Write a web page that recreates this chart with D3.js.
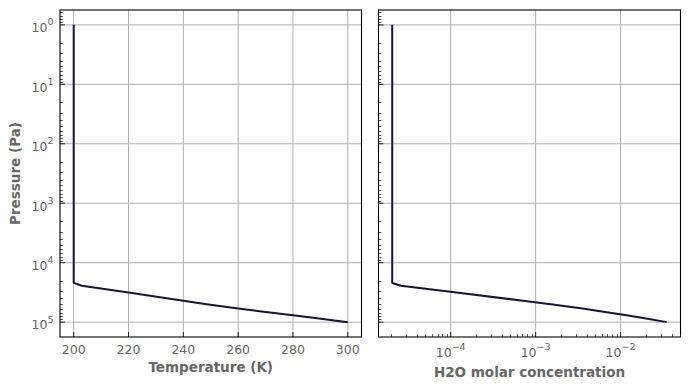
<!DOCTYPE html>
<html>
<head>
<meta charset="utf-8">
<script src="https://cdn.jsdelivr.net/npm/d3@7"></script>
<style>
	html, body { margin: 0; padding: 0; background: #fff; }
	.c-svg { width: 690px; height: 390px; }
	text { font-family: "DejaVu Sans", sans-serif; }
</style>
</head>
<body>
<div class="c-svg"></div>
<script>

//DATA
//-------------------------------------------------------------------------

//pressure levels (Pa) shared by both profiles
const pressure = [1, 2.19e4, 2.44e4, 3.16e4, 4.37e4, 5.0e4, 5.89e4, 6.61e4, 7.69e4, 8.71e4, 1e5];
//temperature profile (K)
const temperature = [200, 200, 203, 220, 240, 248.5, 260, 268.5, 280, 289.5, 300];
//h2o molar concentration profile
const h2o = [2.05e-5, 2.05e-5, 2.6e-5, 1.17e-4, 7.1e-4, 1.51e-3, 3.57e-3, 6.0e-3, 1.18e-2, 2.0e-2, 3.5e-2];

//tick labels
const tempTicks = [200, 220, 240, 260, 280, 300];
const h2oTickExp = [-4, -3, -2];
const pressTickExp = [0, 1, 2, 3, 4, 5];


//INITIALISATION
//-------------------------------------------------------------------------

const opts = {
	container: ".c-svg",
	width: 690,
	height: 390,
	top: 10,
	bottom: 337,
	left: { x0: 60, x1: 361.5 },
	right: { x0: 378.5, x1: 680.5 },
	tickColor: "#666666",
	gridColor: "#b0b0b0",
	lineColor: "#1b1238",
	tickSize: 12.5,
	supSize: 9.5,
	labelSize: 13.5
};

const svg = d3.select(opts.container)
	.append("svg")
	.attr("width", opts.width)
	.attr("height", opts.height);

//log pressure axis, inverted, 5% margin like matplotlib
const pad = 0.25;
const y = d3.scaleLog()
	.domain([Math.pow(10, -pad), Math.pow(10, 5 + pad)])
	.range([opts.top, opts.bottom]);

//temperature axis
const xT = d3.scaleLinear()
	.domain([195, 305])
	.range([opts.left.x0, opts.left.x1]);

//h2o axis
const hExt = d3.extent(h2o).map(Math.log10);
const hPad = (hExt[1] - hExt[0]) * 0.05;
const xH = d3.scaleLog()
	.domain([Math.pow(10, hExt[0] - hPad), Math.pow(10, hExt[1] + hPad)])
	.range([opts.right.x0, opts.right.x1]);

//minor ticks for log scale
function minorTicks(scale){
	const d = scale.domain();
	const lo = Math.min(d[0], d[1]), hi = Math.max(d[0], d[1]);
	const out = [];
	for (let e = Math.floor(Math.log10(lo)); e <= Math.ceil(Math.log10(hi)); e++){
		for (let m = 2; m <= 9; m++){
			const v = m * Math.pow(10, e);
			if (v > lo && v < hi) out.push(v);
		}
	}
	return out;
}

//superscript label "10^e"
function powLabel(sel, e){
	sel.append("tspan").text("10");
	sel.append("tspan")
		.attr("dy", -6.8)
		.attr("font-size", opts.supSize)
		.text(e < 0 ? "\u2212" + Math.abs(e) : e);
}


//PANELS
//-------------------------------------------------------------------------

function panel(box, x, xMajor, name){
	const g = svg.append("g").attr("class", "panel-" + name);

	//grid
	g.selectAll(".gx")
		.data(xMajor)
		.join("line")
		.attr("x1", d => x(d)).attr("x2", d => x(d))
		.attr("y1", opts.top).attr("y2", opts.bottom)
		.style("stroke", opts.gridColor)
		.style("stroke-width", 1);

	g.selectAll(".gy")
		.data(pressTickExp)
		.join("line")
		.attr("x1", box.x0).attr("x2", box.x1)
		.attr("y1", d => y(Math.pow(10, d))).attr("y2", d => y(Math.pow(10, d)))
		.style("stroke", opts.gridColor)
		.style("stroke-width", 1);

	//y ticks (inward)
	g.selectAll(".ty")
		.data(pressTickExp)
		.join("line")
		.attr("x1", box.x0).attr("x2", box.x0 + 4.9)
		.attr("y1", d => y(Math.pow(10, d))).attr("y2", d => y(Math.pow(10, d)))
		.style("stroke", "#222")
		.style("stroke-width", 1);

	g.selectAll(".tym")
		.data(minorTicks(y))
		.join("line")
		.attr("x1", box.x0).attr("x2", box.x0 + 2.8)
		.attr("y1", d => Math.round(y(d)) + 0.5).attr("y2", d => Math.round(y(d)) + 0.5)
		.style("stroke", "#222")
		.style("stroke-width", 0.8);

	//x ticks (inward)
	g.selectAll(".tx")
		.data(xMajor)
		.join("line")
		.attr("x1", d => x(d)).attr("x2", d => x(d))
		.attr("y1", opts.bottom).attr("y2", opts.bottom - 4.9)
		.style("stroke", "#222")
		.style("stroke-width", 1);

	//profile line
	const line = d3.line()
		.x(d => x(d[0]))
		.y(d => y(d[1]));

	g.append("path")
		.datum(pressure.map((p, i) => [name === "temp" ? temperature[i] : h2o[i], p]))
		.attr("d", line)
		.style("fill", "none")
		.style("stroke", opts.lineColor)
		.style("stroke-width", 2)
		.style("stroke-linejoin", "round");

	//frame
	g.append("rect")
		.attr("x", box.x0).attr("y", opts.top)
		.attr("width", box.x1 - box.x0).attr("height", opts.bottom - opts.top)
		.style("fill", "none")
		.style("stroke", "#000")
		.style("stroke-width", 1.1);

	return g;
}

//left : temperature
const gT = panel(opts.left, xT, tempTicks, "temp");

gT.selectAll(".lx")
	.data(tempTicks)
	.join("text")
	.attr("x", d => xT(d))
	.attr("y", 353.5)
	.attr("text-anchor", "middle")
	.attr("font-size", opts.tickSize)
	.attr("fill", opts.tickColor)
	.text(d => d);

gT.selectAll(".ly")
	.data(pressTickExp)
	.join("text")
	.attr("x", 53.5)
	.attr("y", d => y(Math.pow(10, d)) + 7.3)
	.attr("text-anchor", "end")
	.attr("font-size", opts.tickSize)
	.attr("fill", opts.tickColor)
	.each(function(d){ powLabel(d3.select(this), d); });

gT.append("text")
	.attr("x", (opts.left.x0 + opts.left.x1) / 2)
	.attr("y", 371.5)
	.attr("text-anchor", "middle")
	.attr("font-size", opts.labelSize)
	.attr("font-weight", "bold")
	.attr("fill", opts.tickColor)
	.text("Temperature (K)");

gT.append("text")
	.attr("transform", `translate(20 ${(opts.top + opts.bottom) / 2}) rotate(-90)`)
	.attr("text-anchor", "middle")
	.attr("font-size", opts.labelSize)
	.attr("font-weight", "bold")
	.attr("fill", opts.tickColor)
	.text("Pressure (Pa)");

//right : h2o
const h2oTicks = h2oTickExp.map(e => Math.pow(10, e));
const gH = panel(opts.right, xH, h2oTicks, "h2o");

gH.selectAll(".txm")
	.data(minorTicks(xH))
	.join("line")
	.attr("x1", d => Math.round(xH(d)) + 0.5).attr("x2", d => Math.round(xH(d)) + 0.5)
	.attr("y1", opts.bottom).attr("y2", opts.bottom - 2.8)
	.style("stroke", "#222")
	.style("stroke-width", 0.8);

gH.selectAll(".lx")
	.data(h2oTickExp)
	.join("text")
	.attr("x", d => xH(Math.pow(10, d)))
	.attr("y", 356.7)
	.attr("text-anchor", "middle")
	.attr("font-size", opts.tickSize)
	.attr("fill", opts.tickColor)
	.each(function(d){ powLabel(d3.select(this), d); });

gH.append("text")
	.attr("x", (opts.right.x0 + opts.right.x1) / 2)
	.attr("y", 376.5)
	.attr("text-anchor", "middle")
	.attr("font-size", opts.labelSize)
	.attr("font-weight", "bold")
	.attr("fill", opts.tickColor)
	.text("H2O molar concentration");

</script>
</body>
</html>
